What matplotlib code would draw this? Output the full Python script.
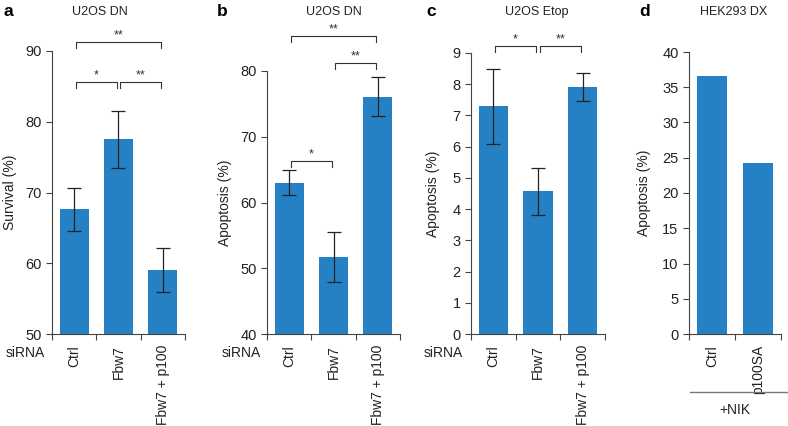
import matplotlib
matplotlib.use('Agg')
import matplotlib.pyplot as plt

plt.rcParams['font.family'] = ['Liberation Sans', 'DejaVu Sans']

# Data
cats_sirna = ['Ctrl', 'Fbw7', 'Fbw7 + p100']
surv_a = [67.6, 77.5, 59.0]
err_a = [3.1, 4.0, 3.1]
apop_b = [63.0, 51.7, 76.1]
err_b = [1.9, 3.8, 3.0]
apop_c = [7.3, 4.57, 7.9]
err_c = [1.2, 0.75, 0.45]
cats_d = ['Ctrl', 'p100SA']
apop_d = [36.6, 24.2]

# significance brackets: (from, to, level, label)
sig_a = [(0, 2, 91.3, '**'), (0, 1, 85.6, '*'), (1, 2, 85.6, '**')]
sig_b = [(0, 2, 85.3, '**'), (1, 2, 81.2, '**'), (0, 1, 66.3, '*')]
sig_c = [(0, 1, 9.22, '*'), (1, 2, 9.22, '**')]

bar_color = '#2581c4'
W, H = 788, 426

fig = plt.figure(figsize=(W / 100, H / 100), dpi=100)


def make_axes(x0, x1, y0, y1):
    return fig.add_axes([x0 / W, 1 - y1 / H, (x1 - x0) / W, (y1 - y0) / H])


def style(ax, cats, ylim, yticks, ylabel):
    n = len(cats)
    ax.set_xlim(-0.5, n - 0.5)
    ax.set_ylim(*ylim)
    ax.set_yticks(yticks)
    ax.spines['top'].set_visible(False)
    ax.spines['right'].set_visible(False)
    ax.spines['left'].set_color('#444444')
    ax.spines['bottom'].set_color('#444444')
    ax.set_xticks([i - 0.5 for i in range(n + 1)])
    ax.set_xticklabels([])
    ax.set_xticks(range(n), minor=True)
    ax.set_xticklabels(cats, minor=True, rotation=90, fontsize=10, color='#222222')
    ax.tick_params(axis='x', which='minor', length=0, pad=8)
    ax.tick_params(axis='x', which='major', length=4, color='#444444')
    ax.tick_params(axis='y', length=4, labelsize=10.5, color='#444444', labelcolor='#222222')
    ax.set_ylabel(ylabel, fontsize=10, color='#222222')


def brackets(ax, sigs, ylim):
    th = 0.022 * (ylim[1] - ylim[0])
    for i, j, lvl, lab in sigs:
        xs = [i + 0.04, i + 0.04, j - 0.04, j - 0.04]
        ys = [lvl - th, lvl, lvl, lvl - th]
        ax.plot(xs, ys, color='#333333', lw=0.8, clip_on=False)
        ax.text((i + j) / 2, lvl + th * 0.1, lab, ha='center', va='bottom',
                fontsize=9, color='#333333', clip_on=False)


def bars(ax, vals, errs=None):
    x = range(len(vals))
    if errs is None:
        ax.bar(x, vals, width=0.66, color=bar_color)
    else:
        ax.bar(x, vals, width=0.66, color=bar_color, yerr=errs,
               error_kw=dict(ecolor='#222222', elinewidth=0.9, capsize=5, capthick=0.9))


# a
ax_a = make_axes(52, 185, 51, 334)
bars(ax_a, surv_a, err_a)
style(ax_a, cats_sirna, (50, 90), [50, 60, 70, 80, 90], 'Survival (%)')
ax_a.yaxis.set_label_coords(-0.26, 0.5)
brackets(ax_a, sig_a, (50, 90))

# b
ax_b = make_axes(267, 400, 71, 334)
bars(ax_b, apop_b, err_b)
style(ax_b, cats_sirna, (40, 80), [40, 50, 60, 70, 80], 'Apoptosis (%)')
ax_b.yaxis.set_label_coords(-0.26, 0.5)
brackets(ax_b, sig_b, (40, 80))

# c
ax_c = make_axes(471, 605, 53, 334)
bars(ax_c, apop_c, err_c)
style(ax_c, cats_sirna, (0, 9), list(range(10)), 'Apoptosis (%)')
ax_c.yaxis.set_label_coords(-0.23, 0.5)
brackets(ax_c, sig_c, (0, 9))

# d
ax_d = make_axes(689, 781, 52, 334)
bars(ax_d, apop_d)
style(ax_d, cats_d, (0, 40), list(range(0, 41, 5)), 'Apoptosis (%)')
ax_d.yaxis.set_label_coords(-0.41, 0.5)

# siRNA row labels
for x in [25, 241, 443]:
    fig.text(x / W, 1 - 353 / H, 'siRNA', ha='center', va='center', fontsize=10, color='#222222')

# +NIK line
fig.add_artist(plt.Line2D([690 / W, 788 / W], [1 - 392 / H, 1 - 392 / H], color='#777777', lw=1))
fig.text(735 / W, 1 - 410 / H, '+NIK', ha='center', va='center', fontsize=10, color='#222222')

# panel letters and titles
for x, lab in [(3, 'a'), (217, 'b'), (426, 'c'), (639, 'd')]:
    fig.text(x / W, 1 - 12 / H, lab, ha='left', va='center', fontsize=12.5, fontweight='bold')
for x, t in [(100, 'U2OS DN'), (334, 'U2OS DN'), (537, 'U2OS Etop'), (734, 'HEK293 DX')]:
    fig.text(x / W, 1 - 12 / H, t, ha='center', va='center', fontsize=9, color='#222222')

fig.savefig('out.png', dpi=100)
